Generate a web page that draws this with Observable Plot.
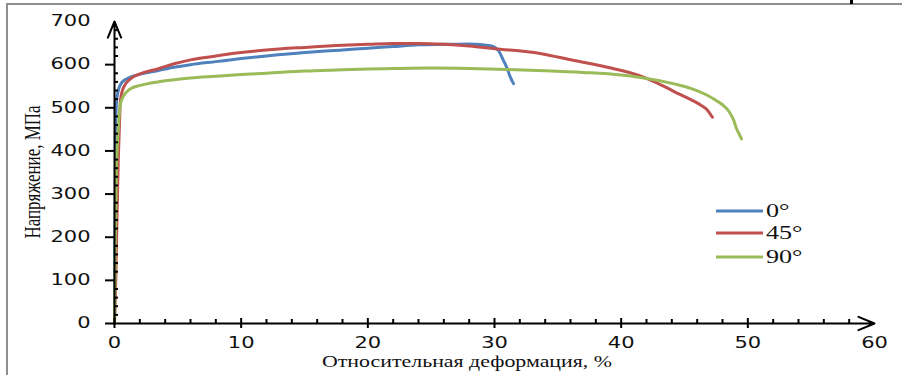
<!DOCTYPE html>
<html><head><meta charset="utf-8">
<script src="https://cdn.jsdelivr.net/npm/d3@7"></script>
<script src="https://cdn.jsdelivr.net/npm/@observablehq/plot@0.6"></script>
<style>
body{margin:0;background:#fff;}
#wrap{position:relative;width:902px;height:375px;overflow:hidden;background:#fff;}
#frameTop{position:absolute;left:6px;top:3px;width:896px;height:2px;background:#8e8e8e;}
#frameLeft{position:absolute;left:6px;top:3px;width:2px;height:372px;background:#8e8e8e;}
#mark{position:absolute;left:850px;top:0;width:3px;height:4px;background:#000;}
#legend{position:absolute;left:0;top:0;}
.serif{font-family:"Liberation Serif","Times New Roman",serif;}
</style></head>
<body>
<div id="wrap"><div id="frameTop"></div><div id="frameLeft"></div><div id="mark"></div></div>
<script>
// ---- data ----
const seriesNames = ["0°", "45°", "90°"];
const seriesColors = ["#4f81bd", "#c0504d", "#9bbb59"];
const xTitle = "Относительная деформация, %";
const yTitle = "Напряжение, МПа";
const xDomain = [0, 60];
const yDomain = [0, 700];
const xTicks = [0, 10, 20, 30, 40, 50, 60];
const yTicks = [0, 100, 200, 300, 400, 500, 600, 700];
const xMinor = [2,4,6,8,12,14,16,18,22,24,26,28,32,34,36,38,42,44,46,48,52,54,56,58];
const yMinor = [20,40,60,80,120,140,160,180,220,240,260,280,320,340,360,380,420,440,460,480,520,540,560,580,620,640,660,680];

const strain0 = [0, 0.05, 0.1, 0.15, 0.3, 0.5, 0.73, 1.26, 2.05, 3.4, 4.7, 6, 8, 10, 12, 15, 18, 20, 22, 24, 26, 28, 29.7, 30.3, 30.7, 31.0, 31.25, 31.5];
const stress0 = [0, 250, 450, 510, 540, 555, 563, 571, 578, 586, 594, 600, 607, 614, 620, 628, 634, 638, 642, 646, 647, 648, 644, 633, 610, 591, 571, 556];

const strain45 = [0, 0.1, 0.2, 0.3, 0.4, 0.47, 0.73, 1.26, 2.05, 3.4, 4.7, 6, 8, 10, 12, 15, 18, 20, 22, 24, 26, 28, 30, 33.6, 36.2, 38.9, 41.4, 42.5, 43.5, 44.5, 45.5, 46.3, 46.8, 47.2];
const stress45 = [0, 100, 250, 380, 470, 517, 548, 567, 579, 590, 602, 611, 620, 628, 634, 640, 645, 647, 649, 649, 647, 643, 637, 626, 610, 594, 575, 562, 548, 533, 519, 506, 495, 478];

const strain90 = [0, 0.05, 0.15, 0.34, 0.47, 0.73, 1.26, 2.05, 3.4, 4.7, 6, 8, 10, 12, 15, 18, 20, 22, 25, 28, 31, 34, 37, 40, 41.4, 44.1, 45.5, 46.8, 47.5, 48, 48.5, 48.9, 49.1, 49.3, 49.5];
const stress90 = [0, 150, 350, 470, 509, 528, 544, 552, 560, 565, 569, 573, 577, 580, 585, 588, 590, 591, 592, 591, 589, 586, 582, 576, 571, 556, 545, 529, 517, 507, 492, 470, 452, 440, 428];

const strains = [strain0, strain45, strain90];
const stresses = [stress0, stress45, stress90];

// ---- chart ----
const STRETCH = 1.4;
const lineMarks = strains.map((s, k) =>
  Plot.line(s, {x: s, y: stresses[k], stroke: seriesColors[k], strokeWidth: 3, curve: "monotone-x"}));

const chart = Plot.plot({
  width: 902, height: 375,
  marginLeft: 114, marginRight: 28, marginTop: 21, marginBottom: 52,
  style: {background: "transparent", overflow: "visible"},
  x: {domain: xDomain},
  y: {domain: yDomain},
  marks: [
    Plot.axisX({ticks: xTicks, tickSize: 0, tickPadding: 14, label: null,
      fontSize: 15, fontFamily: "DejaVu Sans", fill: "#111"}),
    Plot.axisY({ticks: yTicks, tickSize: 0, tickPadding: 24, label: null,
      fontSize: 15, fontFamily: "DejaVu Sans", fill: "#111"}),
    ...lineMarks,
    // minor ticks
    Plot.ruleX(xMinor, {x: d => d, y1: 0, y2: 0, insetTop: -4, insetBottom: 0, stroke: "#000", strokeWidth: 2}),
    Plot.ruleY(yMinor, {y: d => d, x1: 0, x2: 0, insetLeft: 0, insetRight: -4, stroke: "#000", strokeWidth: 2}),
    // major ticks
    Plot.ruleX(xTicks.slice(0, -1), {x: d => d, y1: 0, y2: 0, insetTop: -5, insetBottom: -5, stroke: "#000", strokeWidth: 2}),
    Plot.ruleY(yTicks.slice(0, -1), {y: d => d, x1: 0, x2: 0, insetLeft: -9, insetRight: 0, stroke: "#000", strokeWidth: 2}),
    // axes with arrows
    Plot.arrow([0], {x1: xDomain[0], y1: yDomain[0], x2: xDomain[1], y2: yDomain[0], stroke: "#000", strokeWidth: 2, headLength: 13, headAngle: 45}),
    Plot.arrow([0], {x1: xDomain[0], y1: yDomain[0], x2: xDomain[0], y2: yDomain[1], stroke: "#000", strokeWidth: 2, headLength: 13, headAngle: 45})
  ]
});
document.getElementById("wrap").appendChild(chart);

function stretch(el, f) {
  const w = el.getComputedTextLength();
  el.setAttribute("textLength", w * f);
  el.setAttribute("lengthAdjust", "spacingAndGlyphs");
}
chart.querySelectorAll('g[aria-label="x-axis tick label"] text, g[aria-label="y-axis tick label"] text')
  .forEach(t => stretch(t, STRETCH));

const svg = d3.select(chart);
svg.append("text").attr("class", "serif").attr("x", 467).attr("y", 367).attr("text-anchor", "middle")
  .attr("textLength", 290).attr("lengthAdjust", "spacingAndGlyphs")
  .style("font-size", "17px").attr("fill", "#111").text(xTitle);
svg.append("text").attr("class", "serif").attr("transform", "translate(32,172) scale(1.37,1) rotate(-90)")
  .attr("text-anchor", "middle").attr("dy", "0.35em")
  .style("font-size", "17px").attr("fill", "#111").text(yTitle);

// legend
const leg = d3.select("#wrap").append("svg").attr("id", "legend").attr("width", 902).attr("height", 375);
const legY = [211, 233, 257];
seriesNames.forEach((n, k) => {
  leg.append("line").attr("x1", 716).attr("x2", 763).attr("y1", legY[k]).attr("y2", legY[k])
    .attr("stroke", seriesColors[k]).attr("stroke-width", 3);
  const t = leg.append("text").attr("class", "serif").attr("x", 766).attr("y", legY[k]).attr("dy", "0.35em")
    .style("font-size", "18px").attr("fill", "#111").text(n);
  stretch(t.node(), 1.45);
});
</script>
</body></html>
